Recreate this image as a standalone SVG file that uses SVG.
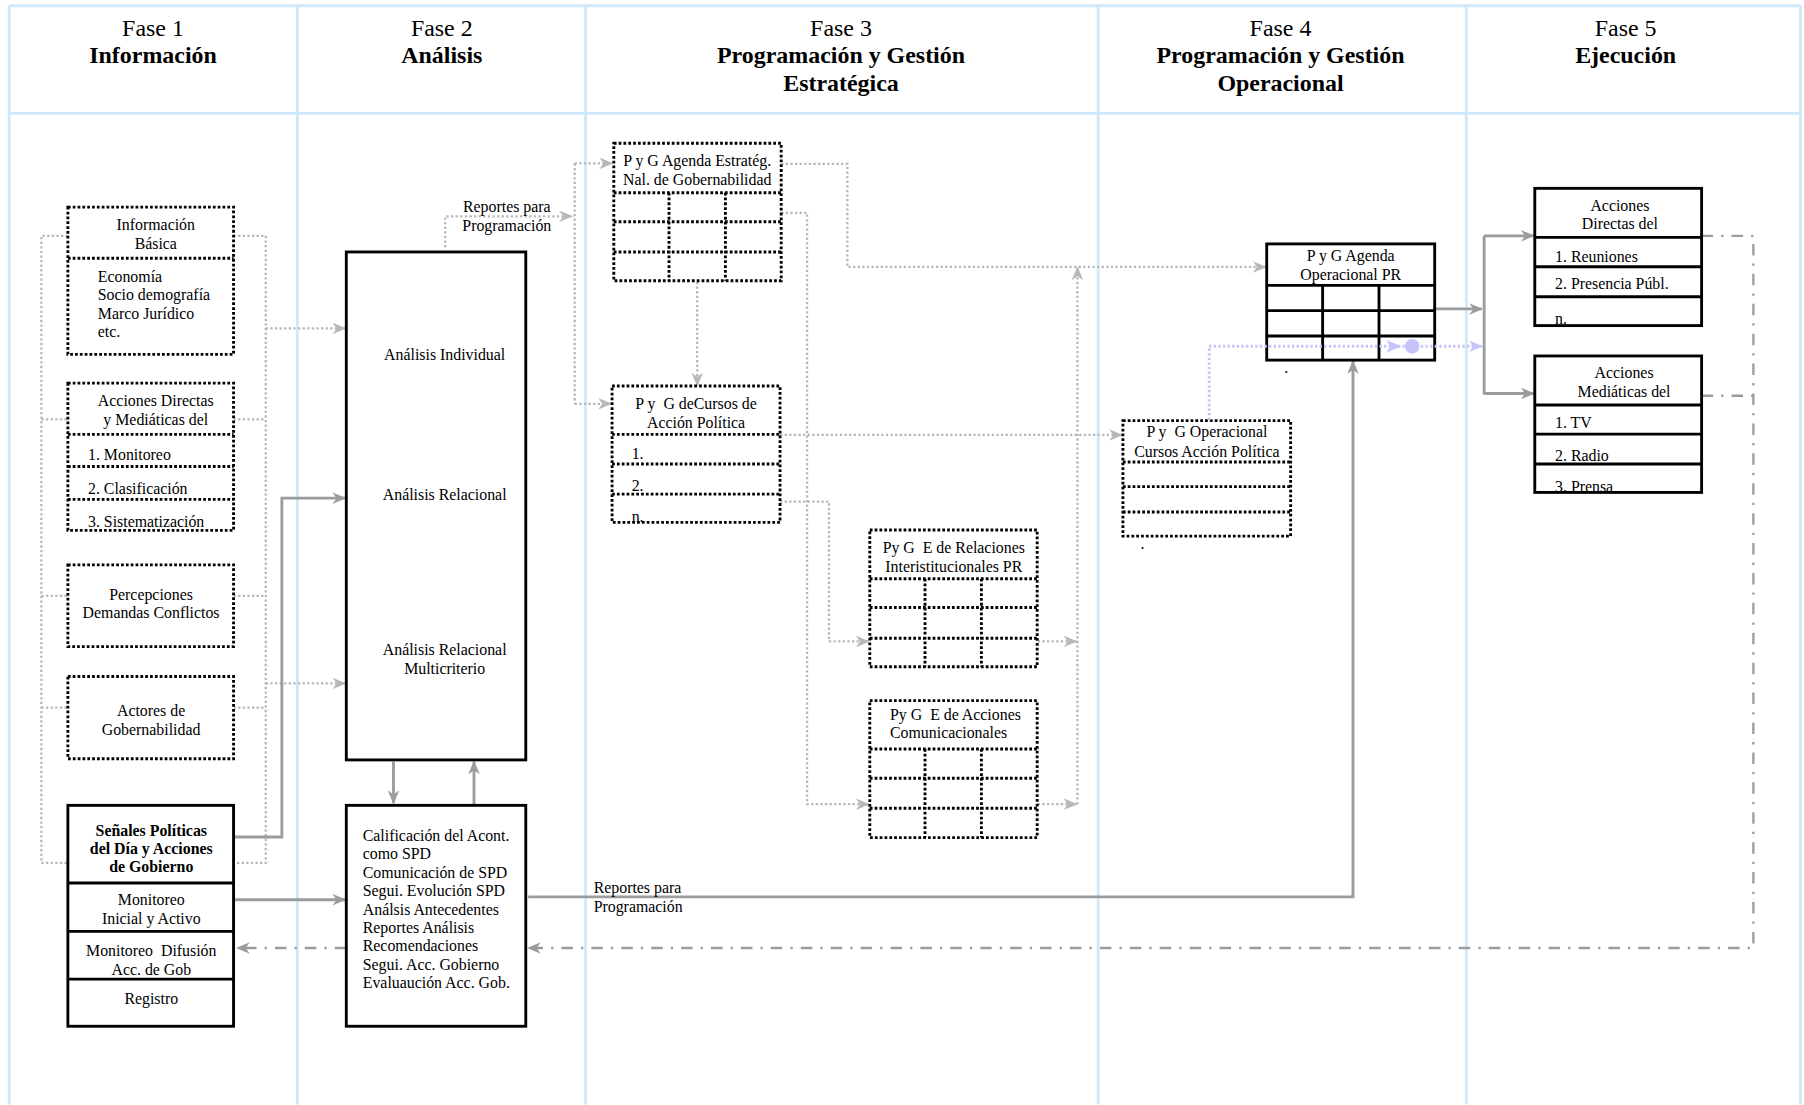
<svg xmlns="http://www.w3.org/2000/svg" width="1804" height="1105" viewBox="0 0 1804 1105">
<defs>
<style>
.lane{stroke:#cfe9fb;stroke-width:2.5;fill:none}
.nd{fill:#fff;stroke:#000;stroke-width:2.5;stroke-dasharray:2.4 1.8}
.ns{fill:#fff;stroke:#000;stroke-width:2.5}
.dl{stroke:#000;stroke-width:2.5;stroke-dasharray:2.4 1.8;fill:none}
.sl{stroke:#000;stroke-width:2.5;fill:none}
.cd{stroke:#b8b8b8;stroke-width:2;stroke-dasharray:2 2;fill:none}
.cs{stroke:#9c9c9c;stroke-width:2.5;fill:none}
.cdd{stroke:#9c9c9c;stroke-width:2;stroke-dasharray:10 7 2 7;fill:none}
.cl{stroke:#c4c4fa;stroke-width:2.5;stroke-dasharray:2 2;fill:none}
.t{font-family:"Liberation Serif","Times New Roman",serif;font-size:13.8px;fill:#000}
.c{text-anchor:middle}
.h{font-size:20.8px}
.b{font-weight:bold}
.p{white-space:pre}
</style>
<marker id="ad" viewBox="0 0 12 10" refX="11" refY="5" markerWidth="12" markerHeight="10" markerUnits="userSpaceOnUse" orient="auto"><path d="M0,0 L12,5 L0,10 L3.5,5 z" fill="#b8b8b8"/></marker>
<marker id="as" viewBox="0 0 12 10" refX="11" refY="5" markerWidth="12" markerHeight="10" markerUnits="userSpaceOnUse" orient="auto"><path d="M0,0 L12,5 L0,10 L3.5,5 z" fill="#9c9c9c"/></marker>
<marker id="al" viewBox="0 0 12 10" refX="11" refY="5" markerWidth="12" markerHeight="10" markerUnits="userSpaceOnUse" orient="auto"><path d="M0,0 L12,5 L0,10 L3.5,5 z" fill="#c4c4fa"/></marker>
</defs>
<rect width="1804" height="1105" fill="#fff"/>
<g transform="scale(1.15051)">
<g id="lanes">
<path class="lane" d="M8,5 H1565 M8,98.5 H1565 M8,5 V960 M258.5,5 V960 M509,5 V960 M954.5,5 V960 M1274.5,5 V960 M1565,5 V960"/>
<text class="t c h" x="133" y="31">Fase 1</text>
<text class="t c h b" x="133" y="55">Información</text>
<text class="t c h" x="384" y="31">Fase 2</text>
<text class="t c h b" x="384" y="55">Análisis</text>
<text class="t c h" x="731" y="31">Fase 3</text>
<text class="t c h b" x="731" y="55">Programación y Gestión</text>
<text class="t c h b" x="731" y="79">Estratégica</text>
<text class="t c h" x="1113" y="31">Fase 4</text>
<text class="t c h b" x="1113" y="55">Programación y Gestión</text>
<text class="t c h b" x="1113" y="79">Operacional</text>
<text class="t c h" x="1413" y="31">Fase 5</text>
<text class="t c h b" x="1413" y="55">Ejecución</text>
</g>
<g id="connectors">
<path class="cd" d="M59,205 H36 V750 H59 M36,364.5 H59 M36,518 H59 M36,615 H59"/>
<path class="cd" d="M203,205 H231 V750 H203 M203,364.5 H231 M203,518 H231 M203,615 H231"/>
<path class="cd" marker-end="url(#ad)" d="M231,285.5 H300"/>
<path class="cd" marker-end="url(#ad)" d="M231,594 H300"/>
<path class="cs" marker-end="url(#as)" d="M203,727.5 H245 V433 H300"/>
<path class="cs" marker-end="url(#as)" d="M203,782 H300"/>
<path class="cd" marker-end="url(#ad)" d="M387,215 V188 H497"/>
<path class="cd" d="M499.5,142 V351"/>
<path class="cd" marker-end="url(#ad)" d="M499.5,142 H532"/>
<path class="cd" marker-end="url(#ad)" d="M499.5,351 H531"/>
<path class="cs" marker-end="url(#as)" d="M342,662 V698"/>
<path class="cs" marker-end="url(#as)" d="M412,699 V662"/>
<path class="cs" marker-end="url(#as)" d="M459,779.5 H1176 V314"/>
<path class="cdd" marker-end="url(#as)" d="M1479,205 H1524 V824 H459"/>
<path class="cdd" d="M1479,344 H1524"/>
<path class="cdd" marker-end="url(#as)" d="M301,824 H206"/>
<path class="cd" marker-end="url(#ad)" d="M606,245 V335"/>
<path class="cd" marker-end="url(#ad)" d="M679,142.5 H736.5 V232 H1100"/>
<path class="cd" marker-end="url(#ad)" d="M679,185 H701.5 V699 H755"/>
<path class="cd" marker-end="url(#ad)" d="M678,378 H975"/>
<path class="cd" marker-end="url(#ad)" d="M678,436 H720.5 V557.5 H755"/>
<path class="cd" marker-end="url(#ad)" d="M902,557.5 H935.5"/>
<path class="cd" marker-end="url(#ad)" d="M902,699 H935.5"/>
<path class="cd" marker-end="url(#ad)" d="M936.5,699 V232.5"/>
<path class="cs" marker-end="url(#as)" d="M1247,268.5 H1288"/>
<path class="cs" d="M1290,205 V343"/>
<path class="cs" marker-end="url(#as)" d="M1290,205 H1333"/>
<path class="cs" marker-end="url(#as)" d="M1290,342 H1333"/>
<text class="t c" x="440.5" y="184.5">Reportes para</text>
<text class="t c" x="440.5" y="201">Programación</text>
<text class="t" x="516" y="776">Reportes para</text>
<text class="t" x="516" y="792.5">Programación</text>
</g>
<g id="info-basica">
<rect class="nd" x="59" y="180" width="144" height="128"/>
<path class="dl" d="M59,224.5 H203"/>
<text class="t c" x="135.4" y="200">Información</text>
<text class="t c" x="135.4" y="216.5">Básica</text>
<text class="t" x="85" y="245">Economía</text>
<text class="t" x="85" y="261">Socio demografía</text>
<text class="t" x="85" y="277">Marco Jurídico</text>
<text class="t" x="85" y="293">etc.</text>
</g>
<g id="acciones-dm">
<rect class="nd" x="59" y="333" width="144" height="128"/>
<path class="dl" d="M59,377.5 H203 M59,405.5 H203 M59,434 H203"/>
<text class="t c" x="135.4" y="352.5">Acciones Directas</text>
<text class="t c" x="135.4" y="369">y Mediáticas del</text>
<text class="t" x="76.5" y="400">1. Monitoreo</text>
<text class="t" x="76.5" y="429.5">2. Clasificación</text>
<text class="t" x="76.5" y="458">3. Sistematización</text>
</g>
<g id="percepciones">
<rect class="nd" x="59" y="491" width="144" height="71"/>
<text class="t c" x="131.3" y="521.5">Percepciones</text>
<text class="t c" x="131.3" y="537.5">Demandas Conflictos</text>
</g>
<g id="actores">
<rect class="nd" x="59" y="588" width="144" height="71.5"/>
<text class="t c" x="131.3" y="622.5">Actores de</text>
<text class="t c" x="131.3" y="639">Gobernabilidad</text>
</g>
<g id="senales">
<rect class="ns" x="59" y="700" width="144" height="192"/>
<path class="sl" d="M59,767.5 H203 M59,809.5 H203 M59,851 H203"/>
<text class="t c b" x="131.5" y="726.5">Señales Políticas</text>
<text class="t c b" x="131.5" y="742.5">del Día y Acciones</text>
<text class="t c b" x="131.5" y="758">de Gobierno</text>
<text class="t c" x="131.5" y="786.5">Monitoreo</text>
<text class="t c" x="131.5" y="803">Inicial y Activo</text>
<text class="t c p" x="131.5" y="831">Monitoreo  Difusión</text>
<text class="t c" x="131.5" y="847.5">Acc. de Gob</text>
<text class="t c" x="131.5" y="872.5">Registro</text>
</g>
<g id="analisis">
<rect class="ns" x="301" y="219" width="156" height="441.5"/>
<text class="t c" x="386.5" y="313">Análisis Individual</text>
<text class="t c" x="386.5" y="434.5">Análisis Relacional</text>
<text class="t c" x="386.5" y="569">Análisis Relacional</text>
<text class="t c" x="386.5" y="585.5">Multicriterio</text>
</g>
<g id="calificacion">
<rect class="ns" x="301" y="700" width="156" height="192"/>
<text class="t" x="315.3" y="731">Calificación del Acont.</text>
<text class="t" x="315.3" y="747">como SPD</text>
<text class="t" x="315.3" y="763">Comunicación de SPD</text>
<text class="t" x="315.3" y="779">Segui. Evolución SPD</text>
<text class="t" x="315.3" y="795">Análsis Antecedentes</text>
<text class="t" x="315.3" y="811">Reportes Análisis</text>
<text class="t" x="315.3" y="827">Recomendaciones</text>
<text class="t" x="315.3" y="843">Segui. Acc. Gobierno</text>
<text class="t" x="315.3" y="859">Evaluaución Acc. Gob.</text>
</g>
<g id="agenda-estrategica">
<rect class="nd" x="533.5" y="124.5" width="145.5" height="119.5"/>
<path class="dl" d="M533.5,167.5 H679 M533.5,192.7 H679 M533.5,219 H679 M581.5,167.5 V244 M630.5,167.5 V244"/>
<text class="t c" x="606" y="144.5">P y G Agenda Estratég.</text>
<text class="t c" x="606" y="161">Nal. de Gobernabilidad</text>
</g>
<g id="cursos-accion">
<rect class="nd" x="532" y="335.5" width="146" height="118.5"/>
<path class="dl" d="M532,377.5 H678 M532,403.3 H678 M532,429.5 H678"/>
<text class="t c p" x="605" y="355.5">P y  G deCursos de</text>
<text class="t c" x="605" y="372">Acción Política</text>
<text class="t" x="549" y="399">1.</text>
<text class="t" x="549" y="426.5">2.</text>
<text class="t" x="549" y="454">n.</text>
</g>
<g id="relaciones">
<rect class="nd" x="756" y="460.7" width="145.5" height="118.8"/>
<path class="dl" d="M756,503 H901.5 M756,528 H901.5 M756,554.7 H901.5 M804,503 V579.5 M853,503 V579.5"/>
<text class="t c p" x="829" y="481">Py G  E de Relaciones</text>
<text class="t c" x="829" y="497">Interistitucionales PR</text>
</g>
<g id="comunicacionales">
<rect class="nd" x="756" y="609" width="145.5" height="119"/>
<path class="dl" d="M756,651 H901.5 M756,676.4 H901.5 M756,702.5 H901.5 M804,651 V728 M853,651 V728"/>
<text class="t p" x="773.6" y="626">Py G  E de Acciones</text>
<text class="t" x="773.6" y="641.3">Comunicacionales</text>
</g>
<g id="agenda-operacional">
<rect class="ns" x="1101" y="212" width="146" height="101"/>
<path class="sl" d="M1101,248 H1247 M1101,270 H1247 M1101,292 H1247 M1149.6,248 V313 M1198.6,248 V313"/>
<text class="t c" x="1174" y="227">P y G Agenda</text>
<text class="t c" x="1174" y="243.5">Operacional PR</text>
<text class="t c" x="1118" y="324">.</text>
</g>
<g id="operacional-cursos">
<rect class="nd" x="976" y="365.6" width="145.8" height="100.4"/>
<path class="dl" d="M976,401.6 H1121.8 M976,423 H1121.8 M976,445 H1121.8"/>
<text class="t c p" x="1049" y="380">P y  G Operacional</text>
<text class="t c" x="1049" y="397">Cursos Acción Política</text>
<text class="t c" x="993" y="477">.</text>
</g>
<g id="acciones-directas">
<rect class="ns" x="1334" y="163.7" width="145" height="119.3"/>
<path class="sl" d="M1334,206.3 H1479 M1334,231.8 H1479 M1334,257.9 H1479"/>
<text class="t c" x="1408" y="183.5">Acciones</text>
<text class="t c" x="1408" y="199">Directas del</text>
<text class="t" x="1351.6" y="227.5">1. Reuniones</text>
<text class="t" x="1351.6" y="251.4">2. Presencia Públ.</text>
<text class="t" x="1351.6" y="282">n.</text>
</g>
<g id="acciones-mediaticas">
<rect class="ns" x="1334" y="309.4" width="145" height="118.6"/>
<path class="sl" d="M1334,352 H1479 M1334,377.3 H1479 M1334,403.3 H1479"/>
<text class="t c" x="1411.6" y="328.8">Acciones</text>
<text class="t c" x="1411.6" y="345">Mediáticas del</text>
<text class="t" x="1351.6" y="372">1. TV</text>
<text class="t" x="1351.6" y="400.5">2. Radio</text>
<text class="t" x="1351.6" y="427.5">3. Prensa</text>
</g>
<g id="connectors-over">
<path class="cl" marker-end="url(#al)" d="M1051,365 V301 H1288"/>
<path d="M1205,295.5 L1218,301 L1205,306.5 L1208.5,301 z" fill="#c4c4fa"/>
<circle cx="1227.5" cy="301" r="6.4" fill="#c4c4fa"/>
</g>
</g>
</svg>
